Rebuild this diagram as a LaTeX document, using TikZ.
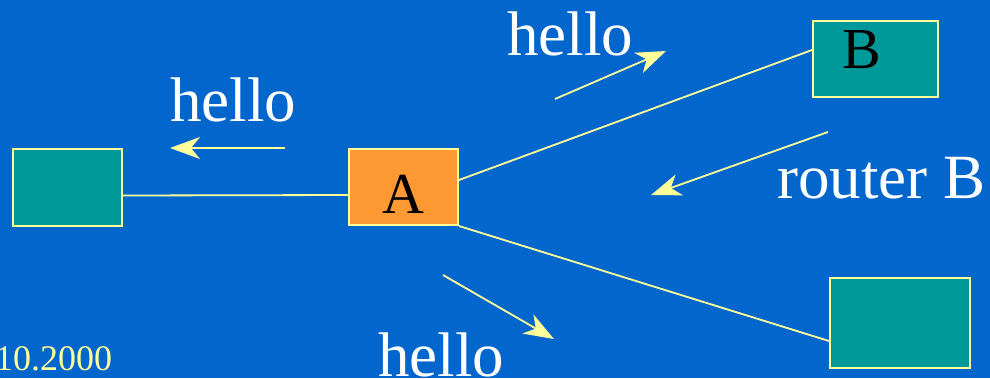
\documentclass[tikz,border=0pt]{standalone}
\usepackage{fontspec}
\setmainfont{Liberation Serif}
\usetikzlibrary{arrows.meta,calc}
\definecolor{slideblue}{RGB}{2,102,204}
\definecolor{routerteal}{RGB}{0,153,153}
\definecolor{routerorange}{RGB}{255,153,51}
\definecolor{linkyellow}{RGB}{255,255,153}
\begin{document}
\begin{tikzpicture}[x=1pt,y=-1pt,>={Stealth[length=30pt,width=22pt,inset=9pt]},line width=1.8pt]
\tikzstyle{router}=[draw=linkyellow,fill=routerteal,inner sep=0pt,line width=2pt]
\tikzstyle{link}=[draw=linkyellow]
\tikzstyle{hello}=[->,draw=linkyellow,fill=linkyellow]
\tikzstyle{msg}=[text=white,font=\fontsize{63}{70}\selectfont,inner sep=0pt,anchor=base]
\fill[slideblue] (0,0) rectangle (990,378);
\useasboundingbox (0,0) rectangle (990,378);
\node[router,minimum width=109pt,minimum height=77pt] (L) at (67.5,187.5) {};
\node[router,fill=routerorange,minimum width=109pt,minimum height=76pt,
  font=\fontsize{58}{60}\selectfont,text height=52pt,text depth=0pt] (A) at (403.5,187) {A};
\node[router,minimum width=125pt,minimum height=76pt,
  label={[font=\fontsize{58}{60}\selectfont,inner sep=0pt,xshift=-13.5pt,yshift=9pt]center:B}] (B) at (875.5,59) {};
\node[router,minimum width=140pt,minimum height=90pt] (C) at (900,323) {};
\draw[link] ($(L.east)+(0,8)$) -- ($(A.west)+(0,8)$);
\draw[link] ($(A.east)+(0,-7)$) -- ($(B.west)+(0,-9)$);
\draw[link] (A.south east) -- ($(C.west)+(0,18)$);
\coordinate (h1s) at (285,148);
\coordinate (h1e) at (170,148);
\coordinate (h2s) at (555,99);
\coordinate (h2e) at (666,51);
\coordinate (h3s) at (828,132);
\coordinate (h3e) at (651,195);
\coordinate (h4s) at (443,275);
\coordinate (h4e) at (554,339);
\draw[hello] (h1s) -- (h1e);
\draw[hello] (h2s) -- (h2e);
\draw[hello] (h3s) -- (h3e);
\draw[hello] (h4s) -- (h4e);
\node[msg] (t1) at (233,121) {hello};
\node[msg] (t2) at (570,55) {hello};
\node[msg] (t3) at (881.5,198) {router B};
\node[msg] (t4) at (441,376) {hello};
\node[text=linkyellow,font=\fontsize{36}{40}\selectfont,inner sep=0pt,anchor=base east] (date) at (113,370) {10.2000};
\end{tikzpicture}
\end{document}
